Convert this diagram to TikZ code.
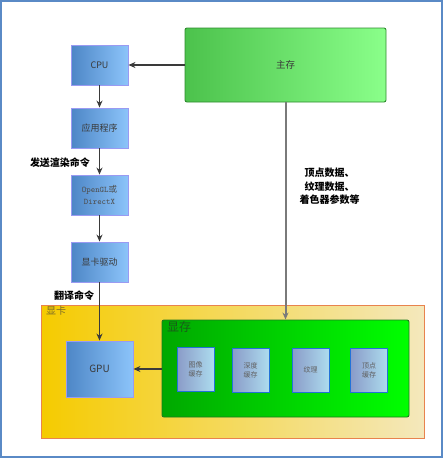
\documentclass[tikz,border=0pt]{standalone}
\usepackage{fontspec}
\setmainfont{Noto Sans CJK SC}
\newfontfamily\cjk{Noto Sans CJK SC}
\usetikzlibrary{arrows.meta}
\definecolor{frameblue}{HTML}{5A8AC6}
\definecolor{boxL}{HTML}{4D86C6}
\definecolor{boxR}{HTML}{8CC4FA}
\definecolor{boxD}{HTML}{9A9AF2}
\definecolor{mainL}{HTML}{4CC24C}
\definecolor{mainR}{HTML}{8AFF8A}
\definecolor{mainD}{HTML}{2E8B2E}
\definecolor{cardL}{HTML}{F5CB00}
\definecolor{cardR}{HTML}{F4E8BC}
\definecolor{cardD}{HTML}{E8834E}
\definecolor{vramL}{HTML}{00A800}
\definecolor{vramR}{HTML}{00FF00}
\definecolor{vramD}{HTML}{1E7A1E}
\definecolor{smL}{HTML}{8A9BC8}
\definecolor{smR}{HTML}{ADDCEE}
\definecolor{smD}{HTML}{2272D8}
\definecolor{txt}{HTML}{3A3A3A}
\definecolor{linkgray}{HTML}{7A7A7A}
\definecolor{cardtxt}{HTML}{7A6A2A}
\definecolor{vramtxt}{HTML}{1A5A1A}
\begin{document}
\begin{tikzpicture}[x=1pt,y=-1pt,
  bluebox/.style={draw=boxD, line width=0.9pt, left color=boxL, right color=boxR, text=txt, inner sep=0pt, font=\fontsize{9}{11}\selectfont},
  smallbox/.style={draw=smD, line width=1pt, left color=smL, right color=smR, text=txt!80, inner sep=0pt, minimum width=37pt, minimum height=44pt, align=center, font=\fontsize{7}{9}\selectfont},
  arr/.style={draw=txt, line width=1.1pt, -{Stealth[length=7pt,width=6pt]}},
  graylink/.style={draw=linkgray, line width=2pt, -{Stealth[length=7pt,width=6pt]}},
  lbl/.style={font=\fontsize{10}{13.5}\selectfont\bfseries, text=black, align=center, inner sep=0pt}
]
\useasboundingbox (0,0) rectangle (443,458);
\draw[frameblue, line width=1.2pt] (1,1) rectangle (442,457);

% main memory
\node[draw=mainD, line width=0.9pt, rounded corners=2pt, left color=mainL, right color=mainR,
  minimum width=201pt, minimum height=74pt, inner sep=0pt, text=txt, font=\fontsize{9.5}{11}\selectfont] (zc) at (285.5,65) {主存};

% left column
\node[bluebox, minimum width=57pt, minimum height=40pt] (cpu) at (99.5,65) {CPU};
\node[bluebox, minimum width=57pt, minimum height=40pt] (app) at (99.5,128) {应用程序};
\node[bluebox, minimum width=57pt, minimum height=40pt, align=center, font=\fontsize{8.5}{12}\selectfont, text=txt!90] (ogl) at (99.5,195) {{\ttfamily OpenGL}或\\{\ttfamily DirectX}};
\node[bluebox, minimum width=57pt, minimum height=40pt] (drv) at (99.5,262) {显卡驱动};

% graphics card
\node[draw=cardD, line width=1pt, left color=cardL, right color=cardR, minimum width=383pt, minimum height=133pt, inner sep=0pt] (card) at (232.5,371.5) {};
\node[anchor=north west, inner sep=0pt, text=cardtxt, font=\fontsize{10}{12}\selectfont] (cardlbl) at (46,306) {显卡};

\node[draw=vramD, line width=0.9pt, rounded corners=2pt, left color=vramL, right color=vramR, minimum width=247pt, minimum height=97pt, inner sep=0pt] (vram) at (285.5,368.5) {};
\node[anchor=north west, inner sep=0pt, text=vramtxt, font=\fontsize{12}{14}\selectfont] (vramlbl) at (167,321) {显存};

\node[bluebox, minimum width=67pt, minimum height=56pt, font=\fontsize{10}{12}\selectfont] (gpu) at (99.5,369) {GPU};

\node[smallbox] (img) at (195.5,369) {图像\\缓存};
\node[smallbox] (dep) at (250.5,370) {深度\\缓存};
\node[smallbox] (tex) at (310.5,370) {纹理};
\node[smallbox] (vtx) at (369,370) {顶点\\缓存};

% connectors
\draw[arr] (zc.west |- cpu.east) -- (cpu.east);
\draw[arr] (cpu) -- (app);
\draw[arr] (app) -- (ogl);
\draw[arr] (ogl) -- (drv);
\draw[arr] (drv) -- (gpu);
\draw[arr] (vram.west |- gpu.east) -- (gpu.east);
\draw[graylink] (zc.south) -- (vram.north);

% labels
\node[lbl] (l1) at (60,163) {发送渲染命令};
\node[lbl] (l2) at (74,296) {翻译命令};
\node[lbl] (l3) at (329.5,186.5) {顶点数据、\\纹理数据、\\着色器参数等};
\end{tikzpicture}
\end{document}
